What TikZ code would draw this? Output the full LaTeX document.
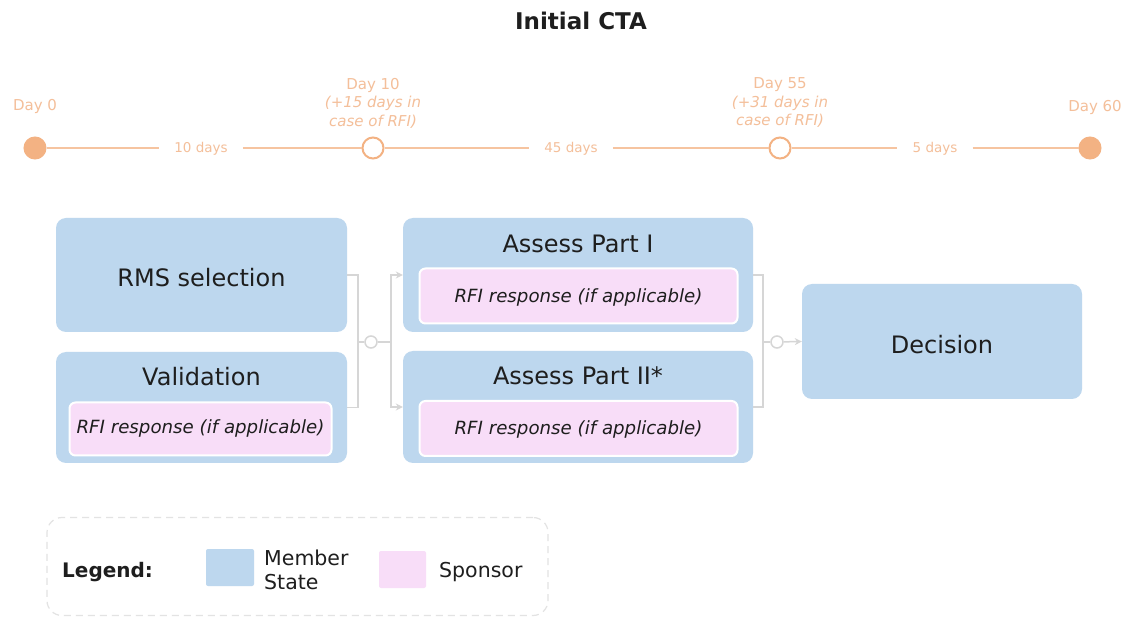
\documentclass[tikz,border=0pt]{standalone}
\usepackage{fontspec}
\setmainfont{DejaVu Sans}
\usetikzlibrary{arrows.meta}
\definecolor{msblue}{HTML}{BDD7EE}
\definecolor{sppink}{HTML}{F8DDF8}
\definecolor{tlorange}{HTML}{F3B283}
\definecolor{tlline}{HTML}{F6C4A0}
\definecolor{tltext}{HTML}{F4BF9A}
\definecolor{conn}{HTML}{D6D6D6}
\definecolor{txt}{HTML}{1E1E1E}
\definecolor{legborder}{HTML}{E3E3E3}
\tikzset{
  msbox/.style={fill=msblue, draw=none, rounded corners=10pt, inner sep=0pt},
  spbox/.style={fill=sppink, draw=white, line width=2pt, rounded corners=6pt, inner sep=0pt},
  boxtitle/.style={anchor=base, text=txt, inner sep=0pt, font=\fontsize{24}{28}\selectfont},
  rfitext/.style={anchor=base, text=txt, inner sep=0pt, font=\fontsize{18.2}{22}\selectfont\itshape},
  milestone/.style={circle, draw=tlorange, line width=2pt, minimum size=21pt, inner sep=0pt},
  donems/.style={fill=tlorange},
  openms/.style={fill=white},
  daylbl/.style={text=tltext, inner sep=0pt, align=center, font=\fontsize{15}{18.5}\selectfont},
  durlbl/.style={text=tltext, inner xsep=15pt, inner ysep=0pt, text height=10pt, text depth=0pt, font=\fontsize{13.5}{16}\selectfont},
  tlseg/.style={draw=tlline, line width=2pt},
  connector/.style={draw=conn, line width=1.5pt},
  flowarrow/.style={connector, -{Stealth[length=7pt,width=7pt]}},
  junction/.style={circle, draw=conn, line width=1.5pt, fill=white, minimum size=12pt, inner sep=0pt},
  legtext/.style={text=txt, inner sep=0pt, font=\fontsize{20.5}{24}\selectfont}
}
\begin{document}
\begin{tikzpicture}[x=1pt,y=-1pt]
\useasboundingbox[fill=white] (0,0) rectangle (1128,617);

% title
\node[anchor=base, text=txt, inner sep=0pt, font=\bfseries\fontsize{23}{27}\selectfont] (title) at (581,30) {Initial CTA};

% timeline
\node[milestone, donems] (d0) at (35,148) {};
\node[milestone, openms] (d10) at (373,148) {};
\node[milestone, openms] (d55) at (780,148) {};
\node[milestone, donems] (d60) at (1090,148) {};
\node[durlbl] (t1) at (201,148) {10 days};
\node[durlbl] (t2) at (571,148) {45 days};
\node[durlbl] (t3) at (935,148) {5 days};
\draw[tlseg] (d0) -- (t1);
\draw[tlseg] (t1) -- (d10);
\draw[tlseg] (d10) -- (t2);
\draw[tlseg] (t2) -- (d55);
\draw[tlseg] (d55) -- (t3);
\draw[tlseg] (t3) -- (d60);
\node[daylbl, anchor=base] (l0) at (35,111) {Day 0};
\node[daylbl, anchor=base] (l60) at (1095,111.5) {Day 60};
\node[daylbl] (l10) at (373,103) {Day 10\\\textit{(+15 days in}\\\textit{case of RFI)}};
\node[daylbl] (l55) at (780,103) {Day 55\\\textit{(+31 days in}\\\textit{case of RFI)}};

% boxes
\node[msbox, minimum width=291pt, minimum height=114pt] (rms) at (201.5,275) {};
\node[msbox, minimum width=291pt, minimum height=111pt] (val) at (201.5,407.5) {};
\node[spbox, minimum width=262pt, minimum height=53pt] (valrfi) at (200.5,429) {};
\node[msbox, minimum width=350pt, minimum height=114pt] (a1) at (578,275) {};
\node[spbox, minimum width=318pt, minimum height=55pt] (a1rfi) at (578.5,296) {};
\node[msbox, minimum width=350pt, minimum height=112pt] (a2) at (578,407) {};
\node[spbox, minimum width=318pt, minimum height=55pt] (a2rfi) at (578.5,428.5) {};
\node[msbox, minimum width=280pt, minimum height=115pt] (dec) at (942,341.5) {};

\node[boxtitle] (rmst) at (201.5,287) {RMS selection};
\node[boxtitle] (valt) at (201.5,386) {Validation};
\node[rfitext] (valrfit) at (200.5,434) {RFI response (if applicable)};
\node[boxtitle] (a1t) at (578,253) {Assess Part I};
\node[rfitext] (a1rfit) at (578.5,303) {RFI response (if applicable)};
\node[boxtitle] (a2t) at (578,385) {Assess Part II*};
\node[rfitext] (a2rfit) at (578.5,435) {RFI response (if applicable)};
\node[boxtitle] (dect) at (942,354) {Decision};

% connectors
\node[junction] (j1) at (371,342) {};
\node[junction] (j2) at (777,342) {};
\coordinate (b1) at (358,342);
\coordinate (b2) at (391,342);
\coordinate (b3) at (763,342);
\draw[connector] (rms.east) -| (b1) |- (val.east);
\draw[connector] (b1) -- (j1);
\draw[connector] (j1) -- (b2);
\draw[flowarrow] (b2) |- (a1.west);
\draw[flowarrow] (b2) |- (a2.west);
\draw[connector] (a1.east) -| (b3) |- (a2.east);
\draw[connector] (b3) -- (j2);
\draw[flowarrow] (j2) -- (dec.west);

% legend
\node[draw=legborder, dashed, dash pattern=on 7pt off 5pt, line width=1.2pt, rounded corners=15pt, minimum width=501pt, minimum height=98pt, inner sep=0pt] (leg) at (297.5,566.5) {};
\node[anchor=base west, text=txt, inner sep=0pt, font=\bfseries\fontsize{20}{24}\selectfont] (legt) at (62,577) {Legend:};
\node[fill=msblue, rounded corners=2pt, minimum width=48pt, minimum height=37pt, inner sep=0pt] (legms) at (230,567.5) {};
\node[legtext, anchor=west, align=left] (legmst) at (264,570) {Member\\State};
\node[fill=sppink, rounded corners=2pt, minimum width=47pt, minimum height=37pt, inner sep=0pt] (legsp) at (402.5,569.5) {};
\node[legtext, anchor=base west] (legspt) at (439,577) {Sponsor};
\end{tikzpicture}
\end{document}
